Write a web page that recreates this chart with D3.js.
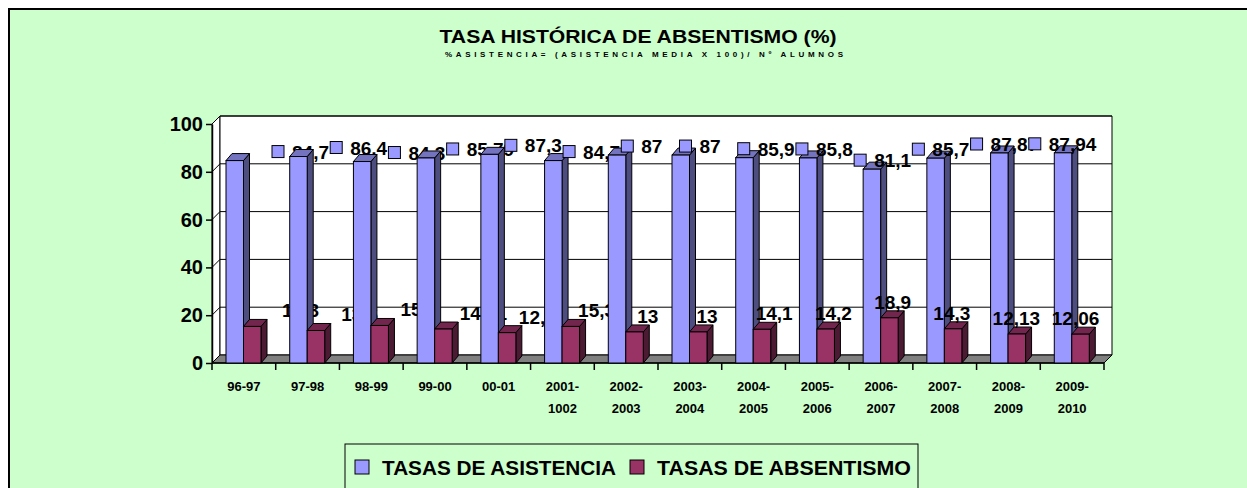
<!DOCTYPE html>
<html>
<head>
<meta charset="utf-8">
<script src="https://cdn.jsdelivr.net/npm/d3@7"></script>
<style>
  body { margin: 0; background: #fff; }
  text { font-family: 'Liberation Sans', Arial, sans-serif; font-weight: bold; fill: #000; }
</style>
</head>
<body>
<div id="chart"></div>
<script>
const categories = ['96-97', '97-98', '98-99', '99-00', '00-01', '2001-1002', '2002-2003', '2003-2004',
    '2004-2005', '2005-2006', '2006-2007', '2007-2008', '2008-2009', '2009-2010']
const asistencia = [84.7, 86.4, 84.3, 85.79, 87.3, 84.7, 87, 87, 85.9, 85.8, 81.1, 85.7, 87.87, 87.94]
const absentismo = [15.3, 13.6, 15.7, 14.21, 12.7, 15.3, 13, 13, 14.1, 14.2, 18.9, 14.3, 12.13, 12.06]
const seriesNames = ['TASAS DE ASISTENCIA', 'TASAS DE ABSENTISMO']
const yTicks = [0, 20, 40, 60, 80, 100]

const colors = {
    asis: { front: '#9999FF', side: '#4D4D80', top: '#7373BF' },
    abs: { front: '#993366', side: '#4D1A33', top: '#73264D' }
}

const width = 1247, height = 488
const svg = d3.select('#chart').append('svg')
    .attr('width', width)
    .attr('height', height)

// chart area frame, runs off the right/bottom edge like the screenshot
svg.append('rect')
    .attr('x', 9).attr('y', 9)
    .attr('width', 1400).attr('height', 600)
    .attr('fill', '#CCFFCC')
    .attr('stroke', '#000')
    .attr('stroke-width', 2)

svg.append('text')
    .attr('x', 638).attr('y', 43)
    .attr('text-anchor', 'middle')
    .attr('font-size', 18)
    .attr('textLength', 397)
    .attr('lengthAdjust', 'spacingAndGlyphs')
    .text('TASA HISTÓRICA DE ABSENTISMO (%)')
svg.append('text')
    .attr('x', 644).attr('y', 57)
    .attr('text-anchor', 'middle')
    .attr('font-size', 8)
    .attr('textLength', 398)
    .attr('lengthAdjust', 'spacing')
    .text('%ASISTENCIA= (ASISTENCIA MEDIA X 100)/ Nº ALUMNOS')

const x = d3.scaleBand()
    .domain(categories)
    .range([212, 1104])
const xs = d3.scaleBand()
    .domain(['asis', 'abs'])
    .range([14, 49])
const y = d3.scaleLinear()
    .domain([0, 100])
    .range([363, 124])

const wall = { dx: 8, dy: -8 }
const depth = { dx: 6, dy: -7 }
const [x0, x1] = x.range()
const pts = a => a.map(p => p.join(',')).join(' ')

// left side wall and back wall
svg.append('polygon')
    .attr('points', pts([[x0, y(100)], [x0 + wall.dx, y(100) + wall.dy], [x0 + wall.dx, y(0) + wall.dy], [x0, y(0)]]))
    .attr('fill', '#fff').attr('stroke', '#000')
svg.append('polygon')
    .attr('points', pts([[x0 + wall.dx, y(100) + wall.dy], [x1 + wall.dx, y(100) + wall.dy], [x1 + wall.dx, y(0) + wall.dy], [x0 + wall.dx, y(0) + wall.dy]]))
    .attr('fill', '#fff').attr('stroke', '#000')

svg.append('g')
    .selectAll('polyline')
    .data(yTicks.slice(1))
    .join('polyline')
    .attr('points', t => pts([[x0, y(t)], [x0 + wall.dx, y(t) + wall.dy], [x1 + wall.dx, y(t) + wall.dy]]))
    .attr('fill', 'none')
    .attr('stroke', '#000')

// floor
svg.append('polygon')
    .attr('points', pts([[x0, y(0)], [x0 + wall.dx, y(0) + wall.dy], [x1 + wall.dx, y(0) + wall.dy], [x1, y(0)]]))
    .attr('fill', '#808080').attr('stroke', '#000')

// y axis
const yAxis = svg.append('g')
    .attr('transform', `translate(${x0},0)`)
    .call(d3.axisLeft(y).tickValues(yTicks).tickSize(6).tickSizeOuter(0).tickPadding(3))
yAxis.select('.domain').attr('stroke', '#000').attr('stroke-width', 1.5)
yAxis.selectAll('.tick line').attr('stroke', '#000').attr('stroke-width', 1.5)
yAxis.selectAll('.tick text')
    .attr('font-size', 20)
    .attr('font-family', "'Liberation Sans', Arial, sans-serif")
    .attr('font-weight', 'bold')
    .attr('fill', '#000')

// x axis: ticks on the band edges, labels centred
const xAxis = svg.append('g')
xAxis.append('line')
    .attr('x1', x0).attr('x2', x1)
    .attr('y1', y(0)).attr('y2', y(0))
    .attr('stroke', '#000').attr('stroke-width', 1.5)
xAxis.selectAll('.edge')
    .data(categories.map(c => x(c)).concat([x1]))
    .join('line')
    .attr('class', 'edge')
    .attr('x1', d => d).attr('x2', d => d)
    .attr('y1', y(0)).attr('y2', y(0) + 7)
    .attr('stroke', '#000').attr('stroke-width', 1.5)
const xLabels = xAxis.selectAll('.xl')
    .data(categories)
    .join('text')
    .attr('class', 'xl')
    .attr('text-anchor', 'middle')
    .attr('font-size', 13)
xLabels.selectAll('tspan')
    .data(c => {
        const parts = c.split('-')
        return c.length > 5 ? [[c, parts[0] + '-'], [c, parts[1]]] : [[c, c]]
    })
    .join('tspan')
    .attr('x', d => x(d[0]) + x.bandwidth() / 2)
    .attr('y', (d, i) => 391 + i * 22)
    .text(d => d[1])

// bars + labels, drawn category by category so the next bar covers the labels
const fmt = v => String(v).replace('.', ',')
const rows = categories.map((c, i) => ({ c, i, asis: asistencia[i], abs: absentismo[i] }))

const bar = (g, d, key) => {
    const bx = x(d.c) + xs(key), w = xs.bandwidth()
    const top = y(d[key]), base = y(0)
    const col = colors[key]
    g.append('polygon')
        .attr('points', pts([[bx + w, top], [bx + w + depth.dx, top + depth.dy], [bx + w + depth.dx, base + depth.dy], [bx + w, base]]))
        .attr('fill', col.side).attr('stroke', '#000').attr('stroke-width', 1)
    g.append('polygon')
        .attr('points', pts([[bx, top], [bx + depth.dx, top + depth.dy], [bx + w + depth.dx, top + depth.dy], [bx + w, top]]))
        .attr('fill', col.top).attr('stroke', '#000').attr('stroke-width', 1)
    g.append('rect')
        .attr('x', bx).attr('y', top)
        .attr('width', w).attr('height', base - top)
        .attr('fill', col.front).attr('stroke', '#000').attr('stroke-width', 1)
}

svg.append('g')
    .selectAll('g')
    .data(rows)
    .join('g')
    .each(function (d) {
        const g = d3.select(this)
        bar(g, d, 'asis')
        bar(g, d, 'abs')

        // asistencia label with legend key
        const lx = x(d.c) + 60 - d.i * 5.5
        const ly = y(d.asis) - 9
        g.append('rect')
            .attr('x', lx).attr('y', ly - 6)
            .attr('width', 12).attr('height', 12)
            .attr('fill', colors.asis.front)
            .attr('stroke', '#000')
        g.append('text')
            .attr('x', lx + 20).attr('y', ly + 7)
            .attr('font-size', 19)
            .text(fmt(d.asis))

        // absentismo label
        g.append('text')
            .attr('x', x(d.c) + 70 - d.i * 4.5)
            .attr('y', y(d.abs) - 16 + 7)
            .attr('font-size', 19)
            .text(fmt(d.abs))
    })

// legend
const legend = svg.append('g')
legend.append('rect')
    .attr('x', 345).attr('y', 444)
    .attr('width', 573).attr('height', 80)
    .attr('fill', 'none').attr('stroke', '#000')
const legendX = [355, 630]
legend.selectAll('.key')
    .data(seriesNames)
    .join('rect')
    .attr('class', 'key')
    .attr('x', (d, i) => legendX[i]).attr('y', 460)
    .attr('width', 14).attr('height', 14)
    .attr('fill', (d, i) => i ? colors.abs.front : colors.asis.front)
    .attr('stroke', '#000')
legend.selectAll('.lt')
    .data(seriesNames)
    .join('text')
    .attr('class', 'lt')
    .attr('x', (d, i) => legendX[i] + 27).attr('y', 474.5)
    .attr('font-size', 20.5)
    .attr('textLength', (d, i) => i ? 254 : 234)
    .attr('lengthAdjust', 'spacingAndGlyphs')
    .text(d => d)
</script>
</body>
</html>
